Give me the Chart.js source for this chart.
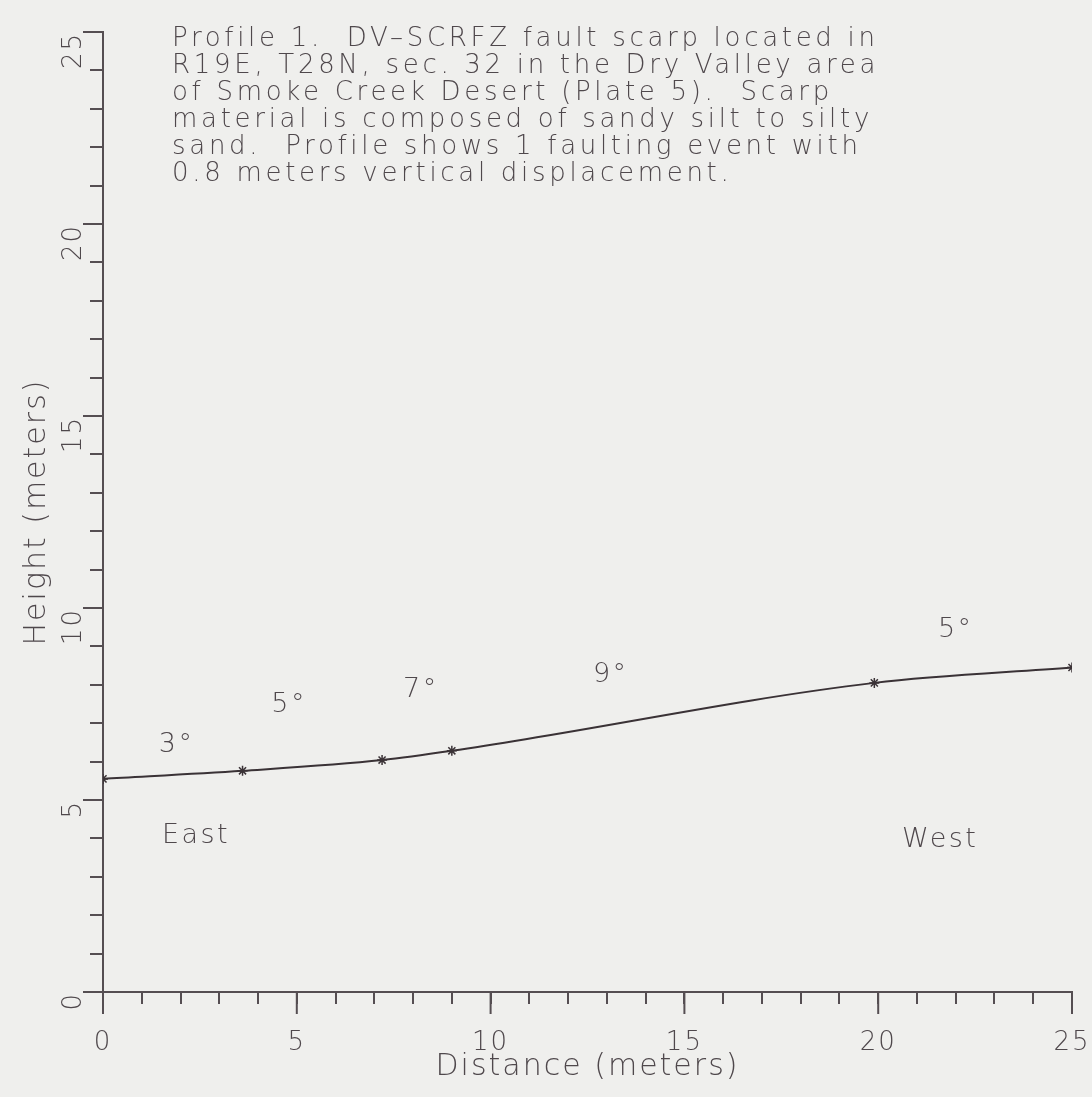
<!DOCTYPE html>
<html>
<head>
<meta charset="utf-8">
<script src="https://cdn.jsdelivr.net/npm/chart.js@4.4.1/dist/chart.umd.min.js"></script>
<style>
  html, body { margin: 0; padding: 0; background: #efefed; }
  #wrap { width: 1092px; height: 1097px; }
</style>
</head>
<body>
<div id="wrap"><canvas id="profile"></canvas></div>
<script>
// profile survey points (meters)
const distance = [0, 3.6, 7.2, 9.0, 19.9, 25.0];
const height = [5.55, 5.76, 6.04, 6.28, 8.05, 8.45];

// slope angles written along the profile
const angleText = ['3°', '5°', '7°', '9°', '5°'];
const angleX = [1.9, 4.8, 8.2, 13.1, 22.0];
const angleY = [6.43, 7.47, 7.86, 8.25, 9.43];

const sideText = ['East', 'West'];
const sideX = [2.4, 21.6];
const sideY = [4.06, 3.96];

const noteLines = [
  'Profile 1.  DV\u2013SCRFZ fault scarp located in',
  'R19E, T28N, sec. 32 in the Dry Valley area',
  'of Smoke Creek Desert (Plate 5).  Scarp',
  'material is composed of sandy silt to silty',
  'sand.  Profile shows 1 faulting event with',
  '0.8 meters vertical displacement.'
];

const ink = '#554e52';
const txt = '#4f484c';
const fam = '"DejaVu Sans", sans-serif';

const notes = {
  id: 'notes',
  beforeDraw(chart) {
    chart.ctx.letterSpacing = '2px';
  },
  afterDraw(chart) {
    const c = chart.ctx;
    const xs = chart.scales.x, ys = chart.scales.y;
    c.save();
    // longer major ticks every 5 m
    c.strokeStyle = ink;
    c.lineWidth = 2;
    for (let v = 0; v <= 25; v += 5) {
      const px = xs.getPixelForValue(v);
      c.beginPath(); c.moveTo(px, xs.top); c.lineTo(px, xs.top + 22); c.stroke();
      const py = ys.getPixelForValue(v);
      c.beginPath(); c.moveTo(ys.right, py); c.lineTo(ys.right - 20, py); c.stroke();
    }
    c.fillStyle = txt;
    c.textAlign = 'center';
    c.textBaseline = 'middle';
    c.letterSpacing = '2.5px';
    c.font = '200 27px ' + fam;
    angleText.forEach((t, i) => {
      c.fillText(t, xs.getPixelForValue(angleX[i]), ys.getPixelForValue(angleY[i]));
    });
    sideText.forEach((t, i) => {
      c.fillText(t, xs.getPixelForValue(sideX[i]), ys.getPixelForValue(sideY[i]));
    });
    c.textAlign = 'left';
    c.textBaseline = 'top';
    c.letterSpacing = '3.7px';
    c.font = '200 26px ' + fam;
    noteLines.forEach((t, i) => c.fillText(t, 172, 26 + i * 27));
    c.restore();
  }
};

new Chart(document.getElementById('profile'), {
  type: 'line',
  data: {
    datasets: [{
      data: distance.map((d, i) => ({ x: d, y: height[i] })),
      borderColor: '#3a3236',
      borderWidth: 2,
      pointStyle: 'star',
      pointRadius: 5,
      pointBorderColor: '#3a3236',
      pointBorderWidth: 1.5,
      cubicInterpolationMode: 'monotone',
      fill: false
    }]
  },
  options: {
    responsive: true,
    maintainAspectRatio: false,
    animation: false,
    layout: { padding: { top: 32, right: 0, left: 15, bottom: 0 } },
    plugins: { legend: { display: false }, tooltip: { enabled: false } },
    scales: {
      x: {
        type: 'linear',
        min: 0, max: 25,
        afterFit: s => { s.height = 105; s.paddingRight = 20; s.paddingLeft = 0; },
        border: { color: ink, width: 2 },
        grid: { drawOnChartArea: false, drawTicks: true, tickLength: 12, color: ink, lineWidth: 2 },
        ticks: {
          stepSize: 1, autoSkip: false, maxRotation: 0,
          color: txt, padding: 24,
          font: { family: fam, size: 26, weight: 200 },
          callback: v => v % 5 === 0 ? v : ''
        },
        title: {
          display: true, text: 'Distance (meters)', color: txt,
          font: { family: fam, size: 30, weight: 200 }, padding: { top: 0, bottom: 12 }
        }
      },
      y: {
        type: 'linear',
        min: 0, max: 25,
        afterFit: s => { s.width = 88; },
        border: { color: ink, width: 2 },
        grid: { drawOnChartArea: false, drawTicks: true, tickLength: 13, color: ink, lineWidth: 2 },
        ticks: {
          stepSize: 1, autoSkip: false, minRotation: 90, maxRotation: 90,
          color: txt, padding: 16,
          font: { family: fam, size: 26, weight: 200 },
          callback: v => v % 5 === 0 ? v : ''
        },
        title: {
          display: true, text: 'Height (meters)', color: txt,
          font: { family: fam, size: 30, weight: 200 }, padding: { bottom: 0 }
        }
      }
    }
  },
  plugins: [notes]
});
</script>
</body>
</html>
